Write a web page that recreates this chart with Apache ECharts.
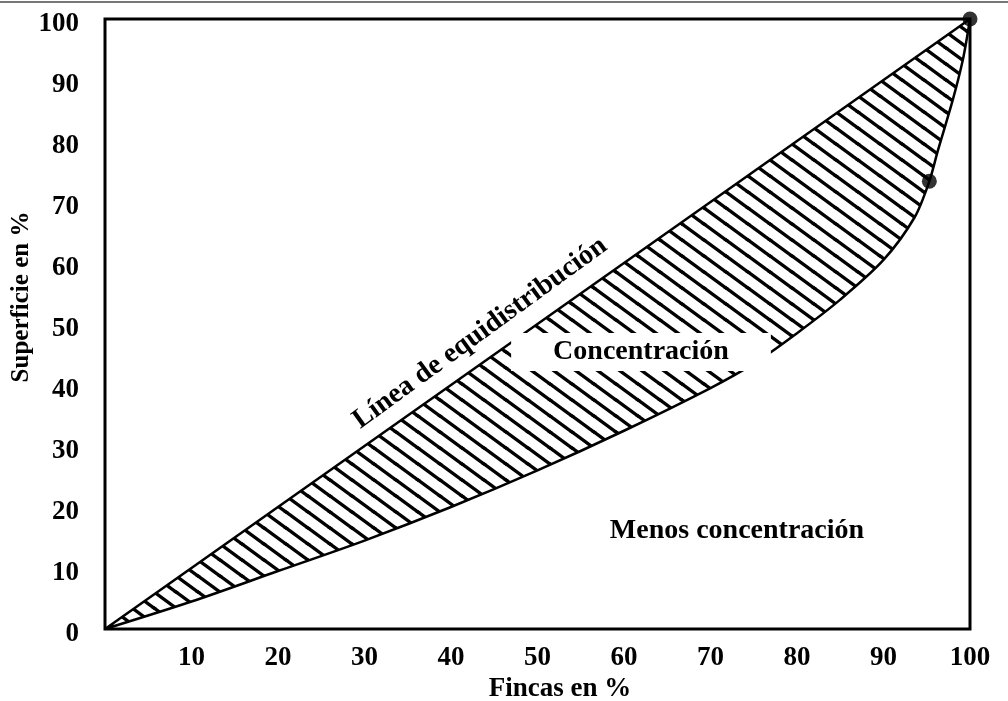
<!DOCTYPE html>
<html>
<head>
<meta charset="utf-8">
<script src="https://cdn.jsdelivr.net/npm/echarts@6/dist/echarts.min.js"></script>
<style>
html,body{margin:0;padding:0;background:#fff;}
#chart{width:1008px;height:701px;}
</style>
</head>
<body>
<div id="chart"></div>
<script>
// ---- data ----
const xTicks = [10, 20, 30, 40, 50, 60, 70, 80, 90, 100];
const yTicks = [0, 10, 20, 30, 40, 50, 60, 70, 80, 90, 100];
const equiX = [0, 100];
const equiY = [0, 100];
const fincas = [0, 10, 20, 30, 40, 50, 60, 70, 75, 80, 85, 90, 93.6, 95.3, 96.3, 98, 99.2, 100];
const superficie = [0, 4.5, 9.5, 14.5, 20, 26, 32.5, 39.5, 43.5, 48.5, 54, 60.5, 67.5, 73.4, 78.5, 86.7, 93.5, 100];
const dotX = [95.3, 100];
const dotY = [73.4, 100];
const xTitle = 'Fincas en %';
const yTitle = 'Superficie en %';
const lineLabel = 'Línea de equidistribución';
const concLabel = 'Concentración';
const lessLabel = 'Menos concentración';

const FONT = '"Liberation Serif", "Times New Roman", serif';

// hatch pattern
function hatch() {
  const W = 11, H = 8;
  const c = document.createElement('canvas');
  const s = 2;
  c.width = W * s; c.height = H * s;
  const g = c.getContext('2d');
  g.scale(s, s);
  g.strokeStyle = '#000';
  g.lineWidth = 1.7;
  [[-W, 0], [0, 0], [W, 0], [0, -H], [0, H]].forEach(([dx, dy]) => {
    g.beginPath();
    g.moveTo(dx - W, dy - H);
    g.lineTo(dx + 2 * W, dy + 2 * H);
    g.stroke();
  });
  return c;
}
const pat = hatch();
const chart = echarts.init(document.getElementById('chart'));

const option = {
  backgroundColor: '#fff',
  animation: false,
  grid: {left: 105, right: 38, top: 19, bottom: 72, show: true, borderColor: '#000', borderWidth: 3, z: 10},
  xAxis: {
    type: 'value', min: 0, max: 100, interval: 10,
    axisLine: {show: false}, axisTick: {show: false}, splitLine: {show: false},
    axisLabel: {
      margin: 16, color: '#000', fontFamily: FONT, fontWeight: 'bold', fontSize: 27,
      formatter: v => (xTicks.indexOf(v) >= 0 ? String(v) : '')
    }
  },
  yAxis: {
    type: 'value', min: 0, max: 100, interval: 10,
    axisLine: {show: false}, axisTick: {show: false}, splitLine: {show: false},
    axisLabel: {
      margin: 26, color: '#000', fontFamily: FONT, fontWeight: 'bold', fontSize: 27,
      formatter: v => (yTicks.indexOf(v) >= 0 ? '{a|' + v + '}' : ''),
      rich: {a: {color: '#000', fontFamily: FONT, fontWeight: 'bold', fontSize: 27, padding: [10, 0, 0, 0]}}
    }
  },
  series: [
    {
      type: 'line', z: 2, symbol: 'none',
      data: equiX.map((x, i) => [x, equiY[i]]),
      lineStyle: {color: '#000', width: 2.5},
      areaStyle: {color: {image: pat, repeat: 'repeat'}, opacity: 1}
    },
    {
      type: 'line', z: 3, symbol: 'none', smooth: 0.3,
      data: fincas.map((x, i) => [x, superficie[i]]),
      lineStyle: {color: '#000', width: 2.5},
      areaStyle: {color: '#fff', opacity: 1}
    },
    {
      type: 'scatter', z: 5, symbolSize: 15,
      itemStyle: {color: '#000'},
      data: dotX.map((x, i) => [x, dotY[i]])
    }
  ],
  graphic: [
    {type: 'line', z: 50, shape: {x1: 0, y1: 2, x2: 1008, y2: 2}, style: {stroke: '#777', lineWidth: 2}},
    {type: 'text', z: 50, x: 560, y: 689, style: {text: xTitle, font: 'bold 27px ' + FONT, fill: '#000', align: 'center', verticalAlign: 'middle'}},
    {type: 'text', z: 50, x: 22, y: 297, rotation: Math.PI / 2, style: {text: yTitle, font: 'bold 25px ' + FONT, fill: '#000', align: 'center', verticalAlign: 'middle'}},
    {type: 'text', z: 50, x: 480, y: 333, rotation: 36 * Math.PI / 180, style: {text: lineLabel, font: 'bold 28px ' + FONT, fill: '#000', align: 'center', verticalAlign: 'middle'}},
    {type: 'text', z: 50, x: 641, y: 352, style: {text: concLabel, font: 'bold 28px ' + FONT, fill: '#000', align: 'center', verticalAlign: 'middle', backgroundColor: '#fff', padding: [5, 42, 5, 42]}},
    {type: 'text', z: 50, x: 737, y: 531, style: {text: lessLabel, font: 'bold 28px ' + FONT, fill: '#000', align: 'center', verticalAlign: 'middle'}}
  ]
};
chart.setOption(option);
</script>
</body>
</html>
